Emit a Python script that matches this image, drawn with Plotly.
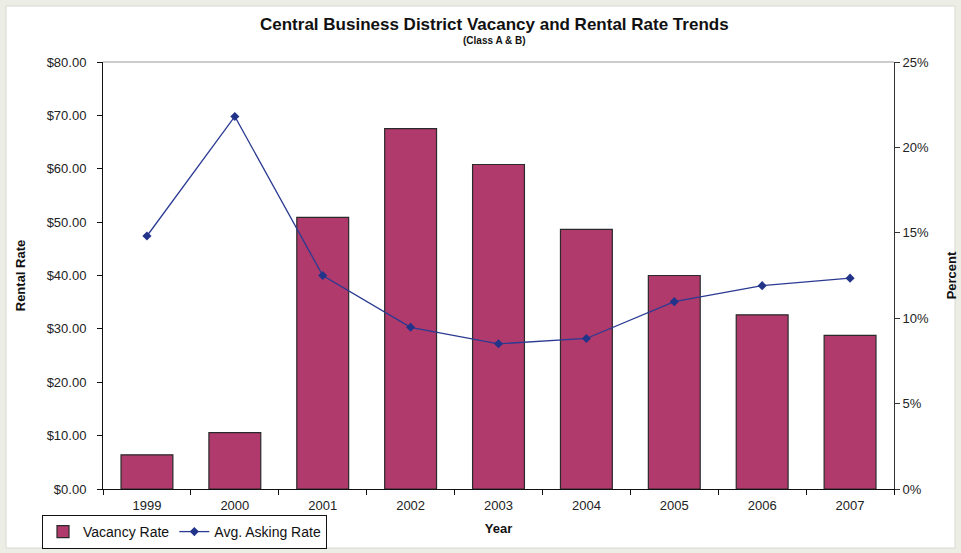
import plotly.graph_objects as go

years = ["1999", "2000", "2001", "2002", "2003", "2004", "2005", "2006", "2007"]
vacancy_rate = [0.020, 0.033, 0.159, 0.211, 0.190, 0.152, 0.125, 0.102, 0.090]
asking_rate = [47.4, 69.8, 40.0, 30.3, 27.2, 28.2, 35.1, 38.1, 39.5]

FONT = "Arial, Liberation Sans, sans-serif"
W, H = 961, 553
L, R, T, B = 103, 894, 62, 489

def px(x):
    return (x - L) / (R - L)

def py(y):
    return (B - y) / (B - T)

fig = go.Figure()
fig.add_trace(go.Bar(
    x=years, y=vacancy_rate, name="Vacancy Rate", yaxis="y",
    marker=dict(color="#B03A6C", line=dict(color="#2a2a2a", width=1.2)),
    width=0.59,
))
fig.add_trace(go.Scatter(
    x=years, y=asking_rate, name="Avg. Asking Rate", yaxis="y2",
    mode="lines+markers",
    line=dict(color="#2B3A92", width=1.3),
    marker=dict(symbol="diamond", size=7, color="#22338A"),
))

axis_font = dict(family=FONT, size=13, color="#222222")
title_font = dict(family=FONT, size=13, color="#111111")
fig.update_layout(
    width=W, height=H,
    margin=dict(l=L, r=W - R, t=T, b=H - B, autoexpand=False),
    paper_bgcolor="#ECEDE5",
    plot_bgcolor="white",
    showlegend=True,
    font=dict(family=FONT, color="#111111"),
    xaxis=dict(
        type="category", showgrid=False, showline=True, linecolor="#111111", linewidth=1,
        ticks="outside", tickson="boundaries", ticklen=5, tickcolor="#111111",
        tickfont=axis_font, mirror=False, ticklabelstandoff=4,
        title=dict(text="<b>Year</b>", font=title_font, standoff=12),
    ),
    yaxis=dict(
        side="right", range=[0, 0.25], dtick=0.05, tickformat=".0%",
        showgrid=False, showline=True, linecolor="#333333", linewidth=1,
        ticks="outside", ticklen=5, tickcolor="#333333", tickfont=axis_font, zeroline=False,
        title=dict(text="<b>Percent</b>", font=title_font, standoff=18),
    ),
    yaxis2=dict(
        overlaying="y", side="left", range=[0, 80], dtick=10, tickformat="$.2f",
        showgrid=False, showline=True, linecolor="#111111", linewidth=1,
        ticks="outside", ticklen=5, tickcolor="#111111", tickfont=axis_font, zeroline=False,
        ticklabelstandoff=8,
        title=dict(text="<b>Rental Rate</b>", font=title_font, standoff=18),
    ),
    legend=dict(
        orientation="h", x=px(42), y=py(532), xanchor="left", yanchor="middle",
        bordercolor="#111111", borderwidth=1, bgcolor="white",
        font=dict(family=FONT, size=14, color="#111111"),
        itemwidth=30, tracegroupgap=0,
    ),
    bargap=0.41,
    shapes=[
        dict(type="rect", xref="paper", yref="paper", layer="below",
             x0=px(6), x1=px(955), y0=py(548), y1=py(6),
             fillcolor="white", line=dict(color="#D8D9D0", width=1)),
        dict(type="line", xref="paper", yref="paper", x0=0, x1=1, y0=1, y1=1,
             line=dict(color="#999999", width=1)),
    ],
    annotations=[
        dict(text="<b>Central Business District Vacancy and Rental Rate Trends</b>",
             xref="paper", yref="paper", x=px(494), y=py(25), xanchor="center", yanchor="middle",
             showarrow=False, font=dict(family=FONT, size=17, color="#111111")),
        dict(text="<b>(Class A &amp; B)</b>",
             xref="paper", yref="paper", x=px(494), y=py(41), xanchor="center", yanchor="middle",
             showarrow=False, font=dict(family=FONT, size=10, color="#111111")),
    ],
)

fig.write_html("out.html")
